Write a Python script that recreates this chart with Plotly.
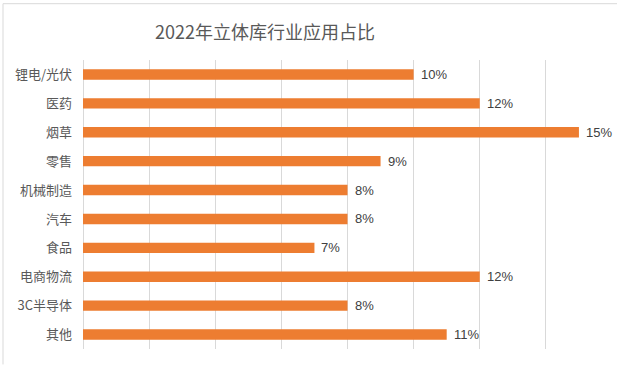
import plotly.graph_objects as go

categories = ["锂电/光伏", "医药", "烟草", "零售", "机械制造", "汽车", "食品", "电商物流", "3C半导体", "其他"]
values = [10, 12, 15, 9, 8, 8, 7, 12, 8, 11]
value_labels = [f"{v}%" for v in values]
title_text = "2022年立体库行业应用占比"

W, H = 617, 365
L, R, T, B = 83, 5, 59.5, 15.5
pw = W - L - R
ph = H - T - B

def px_x(x):
    return (x - L) / pw

def px_y(y):
    return 1 - (y - T) / ph

fig = go.Figure()
fig.add_trace(go.Bar(
    x=values, y=categories, orientation="h",
    marker=dict(color="#ED7D31", line=dict(width=0)),
    hoverinfo="skip",
))

annotations = [
    dict(x=v, y=c, xref="x", yref="y", text=t, showarrow=False, xanchor="left", yanchor="middle",
         xshift=5, font=dict(family="Liberation Sans Narrow, Liberation Sans, sans-serif", size=13, color="#404040"))
    for v, c, t in zip(values, categories, value_labels)
]

fig.update_layout(
    width=W, height=H,
    margin=dict(l=L, r=R, t=T, b=B, autoexpand=False),
    paper_bgcolor="white", plot_bgcolor="white",
    showlegend=False,
    bargap=0.64,
    title=dict(text=title_text, x=265 / W, xref="container", xanchor="center",
               y=1 - 33 / H, yref="container", yanchor="middle", automargin=False,
               font=dict(family="Noto Sans CJK SC", size=18, color="#595959")),
    xaxis=dict(range=[0, 16], dtick=2, showgrid=True, gridcolor="#d9d9d9", gridwidth=1,
               zeroline=True, zerolinecolor="#d9d9d9", zerolinewidth=1, automargin=False,
               showticklabels=False, showline=False, fixedrange=True),
    yaxis=dict(range=[len(categories) - 0.5, -0.5], showgrid=False, zeroline=False, showline=False,
               ticks="", ticklabelstandoff=10, automargin=False, fixedrange=True,
               tickfont=dict(family="Noto Sans CJK SC", size=13, color="#595959")),
    annotations=annotations,
    shapes=[
        dict(type="line", xref="paper", yref="paper", x0=px_x(3), x1=px_x(W), y0=px_y(3), y1=px_y(3),
             line=dict(color="#d9d9d9", width=1)),
        dict(type="line", xref="paper", yref="paper", x0=px_x(3), x1=px_x(3), y0=px_y(3), y1=px_y(H),
             line=dict(color="#d9d9d9", width=1)),
    ],
)

fig.write_html("out.html", config={"displayModeBar": False},
               post_script="document.body.style.margin='0';")
